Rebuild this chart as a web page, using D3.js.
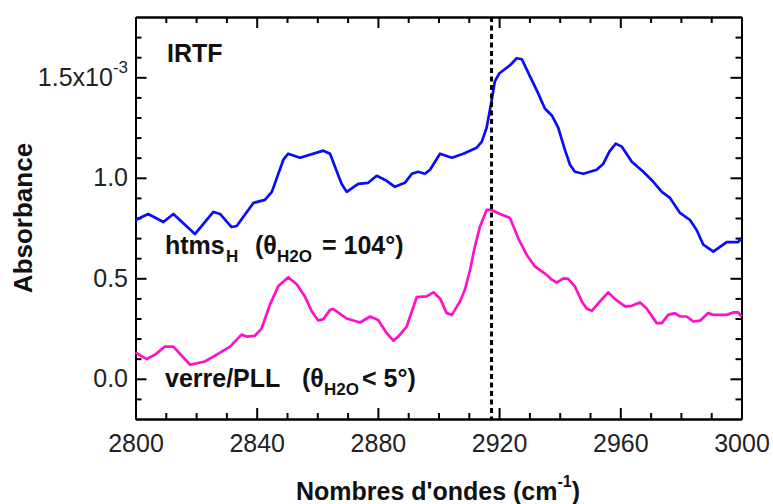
<!DOCTYPE html>
<html><head><meta charset="utf-8">
<script src="https://cdn.jsdelivr.net/npm/d3@7"></script>
<style>
body{margin:0;background:#fff;}
svg text{font-family:"Liberation Sans",Arial,sans-serif;}
</style></head>
<body><svg id="c" width="773" height="504"></svg>
<script>
const blueX = [2800,2804.2,2809.2,2812.5,2819.6,2825.7,2827.9,2831.7,2833.4,2838.9,2842.7,2845,2848.8,2850.4,2854.3,2862,2864.2,2868,2869.7,2873.5,2876.8,2879.6,2882.9,2885.6,2888.9,2891.2,2893.3,2895.5,2897.2,2900.5,2904.4,2908.2,2912.6,2914.3,2915.9,2917.6,2918.6,2920.1,2923.6,2925.8,2927.5,2930.2,2932.9,2935.1,2937.4,2939.5,2941.7,2943.4,2945,2947.8,2952.2,2954.4,2956.4,2958.5,2960.5,2963.8,2967.6,2970.9,2973.7,2976.4,2979.7,2983,2985.2,2987.4,2990.7,2995.1,2998.9,3000];
const blueY = [0.79,0.82,0.78,0.82,0.72,0.83,0.82,0.755,0.76,0.875,0.89,0.93,1.09,1.12,1.10,1.135,1.12,0.97,0.93,0.97,0.975,1.01,0.985,0.955,0.975,1.02,1.03,1.02,1.04,1.12,1.10,1.12,1.15,1.18,1.25,1.39,1.48,1.52,1.56,1.595,1.59,1.505,1.42,1.345,1.31,1.25,1.14,1.065,1.03,1.02,1.04,1.07,1.13,1.17,1.155,1.08,1.03,0.98,0.93,0.9,0.825,0.79,0.74,0.667,0.633,0.68,0.68,0.70];
const pinkX = [2800,2803.7,2806.4,2809.7,2812.5,2818,2822.9,2826.8,2831.2,2835,2836.7,2839.4,2841.6,2844.4,2847.1,2850.4,2853.2,2855.9,2858.2,2860.3,2862,2864.2,2865.3,2869.7,2874.1,2877.4,2880.1,2882.9,2885.1,2886.7,2889.5,2892.8,2896.1,2898.3,2900.5,2902.7,2904.4,2907.1,2908.7,2910.4,2912,2913.7,2915.9,2917.6,2920.3,2923.6,2926.3,2929.1,2931.8,2935.7,2937.4,2939,2941.2,2942.8,2945,2947.3,2948.9,2950.6,2953.3,2956,2958.8,2961.6,2963.8,2966.5,2968.7,2972,2973.7,2975.8,2978,2979.7,2981.9,2984.1,2986.3,2989,2990.7,2995.1,2997.3,2998.9,3000];
const pinkY = [0.131,0.098,0.12,0.16,0.16,0.07,0.086,0.12,0.16,0.22,0.21,0.214,0.25,0.37,0.46,0.505,0.47,0.41,0.335,0.29,0.297,0.343,0.347,0.30,0.28,0.31,0.293,0.227,0.19,0.21,0.26,0.406,0.41,0.43,0.40,0.327,0.318,0.385,0.443,0.54,0.658,0.758,0.84,0.84,0.82,0.80,0.70,0.617,0.559,0.517,0.493,0.479,0.50,0.497,0.46,0.385,0.35,0.338,0.385,0.43,0.39,0.36,0.363,0.38,0.35,0.277,0.277,0.318,0.327,0.31,0.31,0.285,0.289,0.327,0.318,0.318,0.33,0.33,0.31];
const xMajor = [2800,2840,2880,2920,2960,3000];
const xMinor = [2810,2820,2830,2850,2860,2870,2890,2900,2910,2930,2940,2950,2970,2980,2990];
const yMajor = [0,0.5,1.0,1.5];
const yMinor = [-0.1,0.1,0.2,0.3,0.4,0.6,0.7,0.8,0.9,1.1,1.2,1.3,1.4,1.6,1.7];
const markerX = 2917.5;

const L=135.5, R=741.5, T=17, B=419;
const svg = d3.select("#c");
const x = d3.scaleLinear().domain([2800,3000]).range([L,R]);
const y = d3.scaleLinear().domain([-0.2,1.8]).range([B,T]);

function styleAxis(g){
  g.selectAll("path.domain").attr("stroke","#000").attr("stroke-width",2);
  g.selectAll(".tick line").attr("stroke","#000").attr("stroke-width",2);
  g.selectAll("text").attr("font-size",25).attr("fill","#222").attr("font-family","Liberation Sans, Arial, sans-serif");
}
// bottom
svg.append("g").attr("transform",`translate(0,${B})`).call(d3.axisBottom(x).tickValues(xMinor).tickSize(-6).tickSizeOuter(0).tickFormat("")).call(styleAxis);
svg.append("g").attr("transform",`translate(0,${B})`).call(d3.axisBottom(x).tickValues(xMajor).tickSize(-11).tickSizeOuter(0).tickPadding(15).tickFormat(d3.format("d"))).call(styleAxis);
// top
svg.append("g").attr("transform",`translate(0,${T})`).call(d3.axisTop(x).tickValues(xMinor).tickSize(-6).tickSizeOuter(0).tickFormat("")).call(styleAxis);
svg.append("g").attr("transform",`translate(0,${T})`).call(d3.axisTop(x).tickValues(xMajor).tickSize(-11).tickSizeOuter(0).tickFormat("")).call(styleAxis);
// left
svg.append("g").attr("transform",`translate(${L},0)`).call(d3.axisLeft(y).tickValues(yMinor).tickSize(-6).tickSizeOuter(0).tickFormat("")).call(styleAxis);
const yl = svg.append("g").attr("transform",`translate(${L},0)`).call(d3.axisLeft(y).tickValues(yMajor).tickSize(-11).tickSizeOuter(0).tickPadding(7.5).tickFormat(d3.format(".1f"))).call(styleAxis);
yl.selectAll(".tick text").filter(d=>d===1.5).each(function(){
  const t=d3.select(this); t.text("1.5x10");
  t.append("tspan").attr("font-size",17).attr("dy","-0.75em").text("-3");
});
// right
svg.append("g").attr("transform",`translate(${R},0)`).call(d3.axisRight(y).tickValues(yMinor).tickSize(-6).tickSizeOuter(0).tickFormat("")).call(styleAxis);
svg.append("g").attr("transform",`translate(${R},0)`).call(d3.axisRight(y).tickValues(yMajor).tickSize(-11).tickSizeOuter(0).tickFormat("")).call(styleAxis);

// lines
const line = d3.line().x(d=>x(d[0])).y(d=>y(d[1]));
svg.append("path").datum(pinkX.map((v,i)=>[v,pinkY[i]])).attr("d",line).attr("fill","none").attr("stroke","#ff10c8").attr("stroke-width",2.7).attr("stroke-linejoin","round");
svg.append("path").datum(blueX.map((v,i)=>[v,blueY[i]])).attr("d",line).attr("fill","none").attr("stroke","#0a0aff").attr("stroke-width",2.7).attr("stroke-linejoin","round");

// marker
svg.append("line").attr("x1",x(markerX)).attr("x2",x(markerX)).attr("y1",T).attr("y2",B)
  .attr("stroke","#000").attr("stroke-width",3).attr("stroke-dasharray","5,3.5");

// annotations
function addText(parts, baseline){
  const t = svg.append("text").attr("font-weight","bold").attr("fill","#111");
  parts.forEach(p=>{
    t.append("tspan").attr("x",p.x).attr("y",baseline+(p.sub?8:0)).attr("font-size",p.sub?17:25).text(p.t);
  });
}
addText([{t:"IRTF",x:167}],62);
addText([{t:"htms",x:165},{t:"H",x:226,sub:1},{t:"(θ",x:255},{t:"H2O",x:277,sub:1},{t:"= 104°)",x:322}],254);
addText([{t:"verre/PLL",x:165},{t:"(θ",x:302},{t:"H2O",x:324,sub:1},{t:"< 5°)",x:362}],387);

// axis titles
svg.append("text").attr("transform","translate(32,218) rotate(-90)").attr("text-anchor","middle")
  .attr("font-size",26).attr("font-weight","bold").attr("fill","#111").text("Absorbance");
const xt = svg.append("text").attr("x",438).attr("y",500).attr("text-anchor","middle")
  .attr("font-size",25).attr("font-weight","bold").attr("fill","#111");
xt.append("tspan").text("Nombres d'ondes (cm");
xt.append("tspan").attr("font-size",16).attr("dy","-0.8em").text("-1");
xt.append("tspan").attr("dy","0.5em").text(")");
</script></body></html>
